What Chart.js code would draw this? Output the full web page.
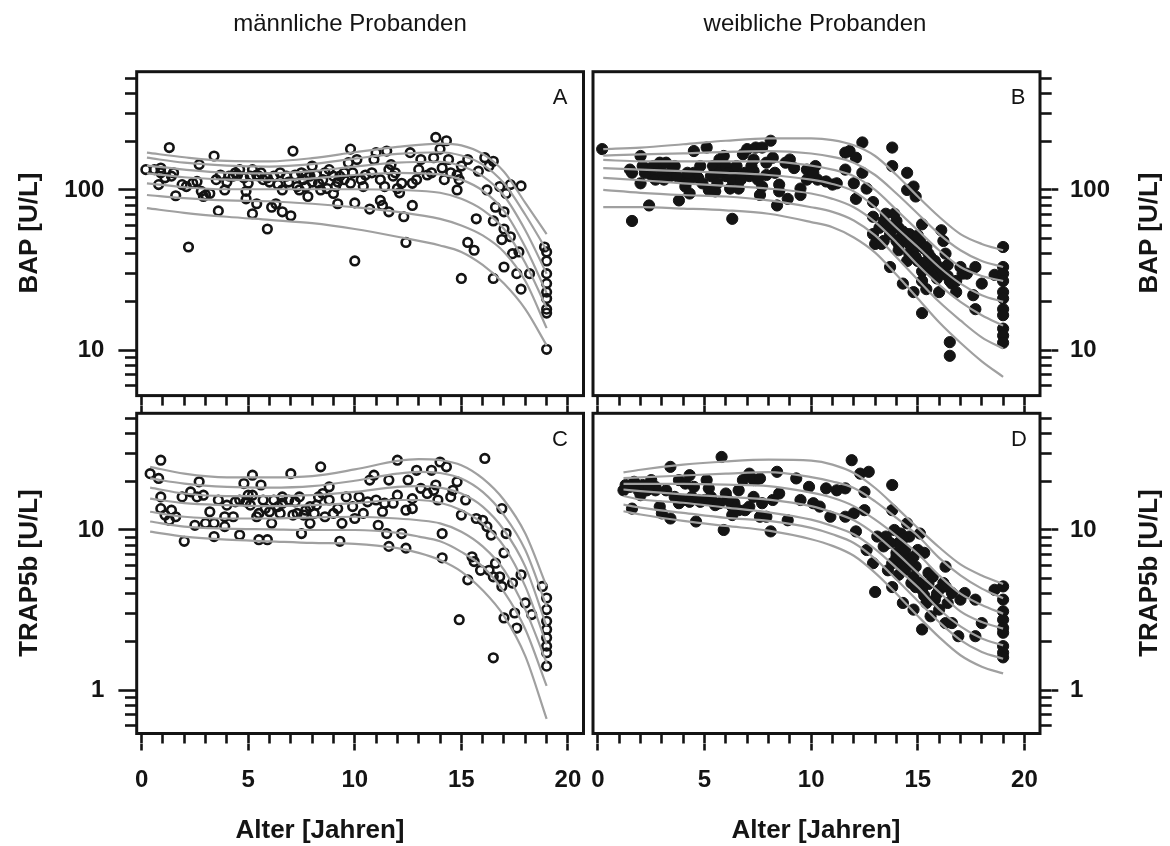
<!DOCTYPE html>
<html lang="de">
<head>
<meta charset="utf-8">
<title>BAP und TRAP5b nach Alter</title>
<script src="https://cdn.jsdelivr.net/npm/chart.js@4.4.1/dist/chart.umd.min.js"></script>
<style>
  html, body { margin: 0; padding: 0; background: #fff; }
  #page { position: relative; width: 1170px; height: 846px; overflow: hidden;
          font-family: "Liberation Sans", Arial, sans-serif; color: #141414; }
  #page canvas { position: absolute; left: 0; top: 0; }
  .txt { position: absolute; white-space: nowrap; line-height: 1; transform: translate(-50%, -50%); }
  .head { font-size: 24px; }
  .axis-title { font-size: 26px; font-weight: bold; }
  .vert { transform: translate(-50%, -50%) rotate(-90deg); }
  .letter { font-size: 22px; }
</style>
</head>
<body>
<div id="page">
  <canvas id="panelA" width="1170" height="846"></canvas>
  <canvas id="panelB" width="1170" height="846"></canvas>
  <canvas id="panelC" width="1170" height="846"></canvas>
  <canvas id="panelD" width="1170" height="846"></canvas>

  <div class="txt head" style="left:350px; top:23px">männliche Probanden</div>
  <div class="txt head" style="left:815px; top:23px">weibliche Probanden</div>

  <div class="txt axis-title vert" style="left:27.5px; top:233px">BAP [U/L]</div>
  <div class="txt axis-title vert" style="left:27.5px; top:573px">TRAP5b [U/L]</div>
  <div class="txt axis-title vert" style="left:1148px; top:233px">BAP [U/L]</div>
  <div class="txt axis-title vert" style="left:1148px; top:573px">TRAP5b [U/L]</div>

  <div class="txt axis-title" style="left:320px; top:829px">Alter [Jahren]</div>
  <div class="txt axis-title" style="left:816px; top:829px">Alter [Jahren]</div>

  <div class="txt letter" style="left:560px; top:96.5px">A</div>
  <div class="txt letter" style="left:1018px; top:97px">B</div>
  <div class="txt letter" style="left:560px; top:438.5px">C</div>
  <div class="txt letter" style="left:1019px; top:438.5px">D</div>
</div>

<script>
// --- Einzelwerte: Alter [Jahre] und Messwert je Panel ---
const ageA = [
  0.2,0.8,0.9,1.3,1.4,1.6,1.9,2.2,2.6,2.7, 2.8,3.0,3.4,3.6,3.7,3.9,4.3,4.6,4.9,4.9,
  5.2,5.2,5.4,5.5,5.9,5.9,6.1,6.3,6.6,6.6, 7.0,7.1,7.2,7.4,7.6,7.8,8.0,8.2,8.4,8.7,
  8.8,9.0,9.2,9.3,9.7,9.8,9.9,10.0,10.0,10.1, 10.4,10.5,10.7,10.9,11.0,11.2,11.3,11.4,11.5,11.6,
  11.6,11.7,11.8,12.0,12.1,12.3,12.4,12.6,12.7,12.7, 12.9,13.1,13.4,13.7,13.8,14.0,14.1,14.3,14.4,14.5,
  14.8,14.8,14.9,15.0,15.0,15.3,15.3,15.6,15.7,15.8, 16.1,16.2,16.3,16.5,16.5,16.5,16.6,16.8,16.9,17.0,
  17.0,17.0,17.1,17.3,17.3,17.4,17.6,17.7,17.8,17.8, 18.2,18.9,19.0,19.0,19.0,19.0,19.0,19.0,19.0,19.0,
  19.0,4.1,4.5,4.8,5.1,5.4,5.7,6.2,6.5,6.8, 7.3,7.7,7.9,8.5,9.0,9.1,9.5,9.5,0.9,0.6,
  1.1,2.1,2.4,2.9,3.2,7.7,8.3,4.0,4.4,5.0, 5.6,6.0,6.4,6.9,7.5,8.0,8.6,9.2,9.8,10.3,
  10.8,11.2,11.9,12.2,13.0,13.6,14.2,3.5,1.5
];
const bapA = [
  134,108,137,184,122,92,108,44,113,144, 98,93,163,74,124,100,122,134,98,88,
  71,134,82,122,57,119,78,82,100,73, 69,175,124,100,116,91,141,124,100,102,
  134,95,82,122,148,180,128,83,36,155, 105,124,76,155,171,86,80,105,175,73,
  134,144,122,102,96,68,47,171,110,80, 116,155,124,159,213,180,137,203,155,128,
  124,100,116,141,28,155,47,42,66,131, 159,100,141,151,64,28,78,105,49,33,
  73,57,95,108,51,40,30,41,106,24, 30,44,41,36,30,26,23,21,18,17,
  10.1,122,124,119,122,124,116,122,128,122, 105,105,122,116,122,105,128,116,128,134,
  119,105,110,91,95,124,110,112,128,110, 128,112,108,112,128,112,128,112,110,116,
  128,116,128,110,134,128,116,116,128
];

const ageB = [
  0.2,1.5,1.6,2.0,2.0,2.3,2.4,2.5,2.7,2.9, 3.2,3.4,3.5,3.8,4.0,4.1,4.3,4.5,4.5,4.7,
  4.8,5.1,5.2,5.4,5.5,5.7,5.8,5.9,6.0,6.2, 6.3,6.4,6.5,6.6,6.8,6.9,7.0,7.3,7.4,7.6,
  7.7,7.7,7.9,8.1,8.2,8.4,8.5,8.5,8.9,9.0, 9.2,9.5,9.5,9.8,10.1,10.2,10.3,10.7,11.0,11.2,
  11.6,11.6,11.8,12.0,12.1,12.1,12.4,12.4,12.6,12.9, 12.9,12.9,13.0,13.3,13.5,13.7,13.8,13.8,13.9,14.0,
  14.1,14.2,14.3,14.5,14.5,14.6,14.7,14.8,14.8,14.9, 15.0,15.2,15.2,15.2,15.3,15.4,15.5,15.7,15.9,16.0,
  16.1,16.2,16.3,16.4,16.5,16.5,16.6,16.8,17.0,17.3, 17.6,17.7,17.7,18.0,18.6,19.0,19.0,19.0,19.0,19.0,
  19.0,19.0,19.0,19.0,19.0,19.0,13.2,13.4,13.7,13.9, 14.1,14.4,14.6,14.8,14.9,15.1,15.4,15.5,15.8,16.2,
  16.5,16.8,17.1,14.1,14.5,15.2,2.1,3.0,3.7,4.3, 5.4,5.7,6.0,6.3,6.5,7.3,7.1,7.9,8.8,9.8,
  10.1,1.6,2.2,2.6,3.1,3.6,4.2,4.9,5.3,5.6, 6.1,6.7,7.2,7.5,8.3,13.6,14.0,14.3,14.6,14.9,
  15.0,15.3,15.6,16.0,16.4,13.4
];
const bapB = [
  180,134,64,163,110,134,80,124,116,148, 148,122,134,86,116,105,95,175,128,119,
  141,184,100,141,98,155,134,163,122,102, 66,134,119,102,167,128,180,131,184,93,
  105,184,124,203,159,80,98,108,88,155, 137,102,93,134,122,141,116,113,108,110,
  171,134,175,110,159,88,198,128,102,84, 68,53,46,46,71,33,184,141,58,64,
  46,50,26,100,128,40,44,105,23,91, 36,61,31,17,43,24,40,31,28,23,
  56,48,40,34,11.2,9.2,26,23,33,30, 22,18,33,26,29.5,44,33,30,27,23,
  21,18,16.5,13.6,12.3,11.1,58,64,53,71, 58,48,53,48,44,48,44,33,36,30,
  27,27,30,42,36,27,141,128,122,116, 124,128,141,116,141,155,122,148,148,116,
  128,128,128,141,116,141,128,110,122,110, 128,116,141,116,128,60,48,55,46,38,
  52,35,38,33,29,48
];

const ageC = [
  0.4,0.8,0.9,0.9,0.9,1.1,1.3,1.4,1.9,2.0, 2.3,2.5,2.7,2.9,3.2,3.4,3.4,3.6,3.9,3.9,
  4.4,4.6,4.8,4.9,5.2,5.2,5.4,5.5,5.6,5.7, 5.9,6.0,6.1,6.6,6.6,7.0,7.1,7.4,7.5,7.6,
  7.9,8.2,8.4,8.5,8.8,8.8,9.0,9.3,9.4,9.6, 9.9,10.0,10.2,10.4,10.7,10.9,11.0,11.1,11.3,11.4,
  11.5,11.6,11.6,11.8,12.0,12.2,12.4,12.5,12.7,12.7, 12.9,13.1,13.4,13.6,13.8,13.9,14.0,14.1,14.1,14.3,
  14.5,14.8,14.9,15.0,15.2,15.3,15.5,15.6,15.7,16.1, 16.2,16.4,16.5,16.5,16.6,16.9,16.9,17.0,17.0,17.1,
  17.4,17.5,17.6,17.8,18.0,18.3,18.8,19.0,19.0,19.0, 19.0,19.0,19.0,19.0,19.0,4.6,5.1,5.5,6.2,6.5,
  6.9,7.3,7.7,8.1,8.6,1.6,2.6,3.0,13.7,14.6, 16.0,16.8,16.3,15.9,4.0,4.3,5.0,5.8,6.4,7.2,
  7.9,8.3,9.2,10.6,12.0,12.4
];
const trapC = [
  22.5,21,27.3,16.1,13.6,12.4,11.5,13.3,16.1,8.5, 17.3,10.7,20,16.5,13,9.1,11,15.4,12.1,10.5,
  15,9.3,19.5,15,22,16.5,12.1,8.7,19.1,15.4, 8.7,13,11,16.1,14.7,22.5,12.4,16.1,9.5,12.4,
  11,14.3,24.8,16.9,18.6,15.4,12.7,8.5,11,16.1, 14,11.8,16.1,12.7,20.5,22,15.4,10.7,13,14.7,
  9.5,7.9,20.5,14.7,27.3,9.5,7.7,20.5,15.7,13.6, 23.6,18.2,16.9,23.6,19.1,15.4,26.6,6.7,9.5,24.8,
  16.1,20,2.75,12.4,15.4,4.88,6.8,6.35,11.8,28, 10.5,9.3,5.1,1.59,6.2,13.6,4.44,7.2,2.82,9.5,
  4.66,3.03,2.44,5.25,3.5,2.96,4.44,3.76,3.18,2.69, 2.39,2.12,1.88,1.71,1.41,15.4,14.3,12.7,15.4,12.7,
  15.4,12.7,13.3,12.7,12.1,12.1,16.1,11,17.7,17.7, 11.5,5.1,5.6,5.6,14.3,12.1,16.5,13.6,14,15,
  14,16.1,13.6,15,16.5,13.3
];

const ageD = [
  1.2,1.3,1.6,1.7,2.0,2.3,2.5,2.7,2.9,3.0, 3.4,3.4,3.8,3.8,4.1,4.3,4.5,4.6,4.7,5.1,
  5.2,5.4,5.5,5.8,5.9,6.0,6.3,6.4,6.6,6.8, 7.1,7.3,7.4,7.6,7.7,7.9,8.1,8.2,8.4,8.5,
  8.9,9.3,9.5,9.9,10.1,10.4,10.7,10.9,11.2,11.6, 11.6,11.9,12.0,12.1,12.3,12.5,12.5,12.6,12.7,12.9,
  13.0,13.1,13.4,13.6,13.8,13.8,13.8,13.9,14.0,14.1, 14.3,14.5,14.5,14.6,14.7,14.8,14.9,15.1,15.2,15.2,
  15.3,15.5,15.6,15.8,16.0,16.2,16.3,16.3,16.6,16.9, 17.0,17.2,17.7,17.7,18.0,18.6,19.0,19.0,19.0,19.0,
  19.0,19.0,19.0,19.0,19.0,3.8,4.3,4.8,5.7,6.3, 6.6,7.3,7.6,2.1,2.7,13.5,14.1,14.4,14.8,14.8,
  15.1,15.4,15.7,16.0,16.3,16.6,14.1,13.8,1.5,1.9, 2.4,3.2,3.6,4.0,4.4,5.0,5.3,6.1,6.9,7.1,
  13.7,14.0,14.2,14.4,14.6,14.9,15.0,15.3,15.5,15.9, 16.4,14.3
];
const trapD = [
  17.7,19.1,13.6,20,16.5,17.7,20.5,18.6,14,12.7, 24.8,11.8,14.7,20.5,19.5,22,18.6,11.3,15.4,20.5,
  18.2,15,14.3,28.6,10,16.9,12.4,14.7,17.7,20.5, 22.5,16.1,20.5,12.1,14.7,12.1,9.8,15.4,23.1,16.9,
  11.5,21,15.4,18.6,14.7,14,18.2,12.1,17.7,18.2, 12.1,27.3,12.7,9.8,22.5,17.3,13.3,7.5,23.1,6.2,
  4.1,9.1,7.9,5.6,4.4,19.1,13.3,10,7.2,5.25, 3.5,11,6.7,9.1,4.66,3.18,5.9,9.5,4.23,2.39,
  7.2,5.4,2.89,3.67,3.18,4.66,5.9,2.62,4.04,2.17, 3.67,4.04,3.67,2.17,2.62,4.23,4.44,3.67,3.1,2.75,
  2.44,2.28,1.88,1.71,1.6,15.4,15,15,14.7,14, 13.3,20.5,21,19.1,17.7,9.1,8.3,7.5,6.8,5.1,
  4.66,3.5,5.1,4.23,4.44,2.62,6.2,6.2,18.6,17.7, 19.1,17.7,16.1,15.4,16.1,15.4,16.1,15.4,13.3,14,
  8.3,6.8,9.5,5.6,6.2,4.4,7.5,3.9,4.6,4.0, 3.5,8.8
];

// --- Perzentilkurven (3., 10., 25., 50., 75., 90., 97.) ---
const curveAgeA = [0.25, 2, 4, 6, 8, 10, 12, 14, 15, 16, 17, 18, 19];
const centilesA = [
  [77, 72, 68, 65, 62, 57, 51, 45, 41, 34, 26, 18, 10.7],
  [93, 89, 86, 85, 82, 78, 73, 66, 60, 52, 41, 27, 13.7],
  [110, 104, 101, 101, 101, 101, 100, 96, 88, 75, 57, 35, 18.3],
  [127, 120, 116, 115, 118, 124, 128, 125, 116, 99, 74, 44, 22.7],
  [142, 134, 128, 127, 131, 140, 148, 150, 141, 122, 92, 56, 30],
  [159, 148, 142, 140, 145, 157, 168, 172, 164, 144, 110, 70, 42],
  [171, 160, 152, 151, 158, 172, 186, 195, 190, 168, 130, 83, 53]
];

const curveAgeB = [0.25, 2, 4, 6, 8, 10, 11, 12, 13, 14, 15, 16, 17, 18, 19];
const centilesB = [
  [78, 78, 76.5, 74.6, 71, 63, 58.5, 50.5, 40.6, 29.5, 21, 14.9, 11.1, 8.5, 6.8],
  [100, 96, 93, 91, 86, 78, 73, 64.5, 52, 38, 27.5, 20, 15.3, 12, 10.2],
  [119, 115, 110, 106, 102, 95, 88, 78, 63, 47, 34, 25.5, 20, 16.5, 14.2],
  [137, 134, 131, 128, 124, 116, 109, 98, 78, 58, 44, 33, 26, 22, 20],
  [154, 151, 151, 151, 151, 142, 134, 122, 100, 75, 56, 42, 33, 29, 27],
  [164, 167, 169, 173, 175, 169, 161, 148, 124, 95, 71, 53, 42, 36, 33],
  [180, 184, 193, 203, 210, 210, 205, 190, 163, 124, 91, 68, 53, 46, 42]
];

const curveAgeC = [0.4, 2, 4, 6, 8, 10, 12, 13, 14, 15, 16, 17, 18, 19];
const centilesC = [
  [9.76, 9.1, 8.7, 8.5, 8.3, 8.2, 7.7, 7.2, 6.5, 5.5, 4.2, 2.9, 1.63, 0.66],
  [11.3, 10.5, 10.2, 10.1, 10, 10, 9.6, 9.1, 8.5, 7.3, 5.9, 4.1, 2.4, 1.06],
  [13, 12.1, 11.8, 11.8, 12, 12.1, 11.8, 11.5, 11, 9.76, 7.9, 5.64, 3.18, 1.48],
  [15.7, 14.7, 14.3, 14.1, 14.3, 14.7, 15.4, 15.4, 14.8, 13.3, 11, 7.9, 4.44, 1.93],
  [18.4, 16.9, 16.3, 16.3, 16.5, 17.3, 18.6, 18.8, 18.4, 16.9, 14, 10, 5.9, 2.5],
  [21, 19.5, 18.6, 18.4, 18.8, 20.3, 22.5, 23.1, 22.7, 21, 17.3, 12.4, 7.5, 3.33],
  [24.8, 22.5, 21.3, 21.3, 21.7, 23.9, 27, 27.7, 27.3, 25.4, 21, 15.4, 9.5, 4.44]
];

const curveAgeD = [1.2, 2, 4, 6, 8, 10, 11, 12, 13, 14, 15, 16, 17, 18, 19];
const centilesD = [
  [13.1, 12.5, 11.4, 10.6, 9.9, 8.75, 7.96, 6.9, 5.4, 4.0, 2.9, 2.14, 1.65, 1.4, 1.27],
  [14.4, 13.8, 12.8, 11.9, 11.4, 10.3, 9.4, 8.3, 6.6, 4.9, 3.6, 2.66, 2.05, 1.73, 1.57],
  [16.3, 15.5, 14.8, 13.8, 12.9, 11.6, 10.6, 9.4, 7.6, 5.8, 4.4, 3.2, 2.5, 2.1, 1.9],
  [17.9, 17.5, 16.7, 16.1, 15.5, 14.1, 12.9, 11.5, 9.4, 7.2, 5.4, 4.1, 3.1, 2.66, 2.42],
  [19.4, 19.4, 19.4, 19.2, 18.8, 17.1, 15.9, 14.1, 11.6, 9.2, 7.1, 5.2, 4.0, 3.4, 3.0],
  [21.1, 21.3, 21.9, 22.5, 23, 21.4, 20.1, 18.3, 15.1, 11.9, 9.2, 6.7, 5.2, 4.3, 3.75],
  [22.9, 23.8, 25.6, 26.8, 27.5, 27.1, 25.6, 22.7, 18.3, 13.8, 10.3, 7.8, 6.1, 5.2, 4.6]
];

// --- Achsen ---
const ageMinorTicks = [0,1,2,3,4,5,6,7,8,9,10,11,12,13,14,15,16,17,18,19,20];
const ageMajorTicks = [0, 5, 10, 15, 20];
const bapMinorTicks = [6,7,8,9,10,20,30,40,50,60,70,80,90,100,200,300,400,500];
const bapMajorTicks = [10, 100];
const trapMinorTicks = [0.6,0.7,0.8,0.9,1,2,3,4,5,6,7,8,9,10,20,30,40,50];
const trapMajorTicks = [1, 10];
const bapRange = [5.19, 548];
const trapRange = [0.535, 53.6];
const ageRange = [-0.23, 20.73];

const INK = '#141414';
const CURVE = '#a0a0a0';
const FONT = "'Liberation Sans', Arial, sans-serif";
const W = 1170, H = 846;

const INNER_TICK = 11.7;   // short ticks next to the frame
const OUTER_TICK = 6.6;    // extension for labelled ticks
const Y_LABEL_BAND = 70;
const X_INNER = 10, X_OUTER = 7, X_LABEL_BAND = 50;

// black frame round each panel
const panelFrame = {
  id: 'panelFrame',
  afterDraw(chart) {
    const { ctx, chartArea: a } = chart;
    ctx.save();
    ctx.strokeStyle = INK;
    ctx.lineWidth = 3;
    ctx.strokeRect(a.left, a.top, a.right - a.left, a.bottom - a.top);
    ctx.restore();
  }
};

function pickTicks(list) {
  return scale => {
    scale.ticks = list
      .filter(v => v >= scale.min - 1e-9 && v <= scale.max + 1e-9)
      .map(v => ({ value: v }));
  };
}

function tickGrid(len) {
  return { drawOnChartArea: false, drawTicks: true, tickLength: len, tickWidth: 2.6, tickColor: INK };
}

const labelFont = { family: FONT, size: 24, weight: 'bold', lineHeight: 1 };

function makePanel(canvasId, p) {
  const yBand = INNER_TICK + Y_LABEL_BAND;
  const xBand = X_INNER + (p.xLabels ? X_LABEL_BAND : X_OUTER);
  const padding = {
    top: p.box.top,
    bottom: H - p.box.bottom - xBand,
    left: p.ySide === 'left' ? p.box.left - yBand : p.box.left,
    right: p.ySide === 'right' ? W - p.box.right - yBand : W - p.box.right
  };

  const datasets = p.centiles.map(vals => ({
    data: p.curveAge.map((a, i) => ({ x: a, y: vals[i] })),
    showLine: true,
    pointRadius: 0,
    borderColor: CURVE,
    borderWidth: 2.2,
    cubicInterpolationMode: 'monotone',
    order: 0
  }));
  datasets.push({
    data: p.age.map((a, i) => ({ x: a, y: p.value[i] })),
    pointRadius: p.filled ? 5.6 : 4.3,
    pointBorderWidth: p.filled ? 1 : 2.6,
    pointBorderColor: INK,
    pointBackgroundColor: p.filled ? INK : 'rgba(0,0,0,0)',
    order: 1
  });

  return new Chart(document.getElementById(canvasId), {
    type: 'scatter',
    data: { datasets },
    options: {
      responsive: false,
      animation: false,
      devicePixelRatio: 1,
      events: [],
      layout: { padding, autoPadding: false },
      plugins: { legend: { display: false }, tooltip: { enabled: false } },
      scales: {
        x: {
          type: 'linear', position: 'bottom', weight: 0,
          min: ageRange[0], max: ageRange[1],
          afterBuildTicks: pickTicks(ageMinorTicks),
          ticks: { display: false },
          grid: tickGrid(X_INNER),
          border: { display: false },
          afterFit: s => { s.height = X_INNER; }
        },
        xMajor: {
          type: 'linear', position: 'bottom', weight: 1,
          min: ageRange[0], max: ageRange[1],
          afterBuildTicks: pickTicks(ageMajorTicks),
          ticks: { display: p.xLabels, color: INK, font: labelFont, padding: 18,
                   maxRotation: 0, autoSkip: false },
          grid: tickGrid(X_OUTER),
          border: { display: false },
          afterFit: s => { s.height = p.xLabels ? X_LABEL_BAND : X_OUTER; }
        },
        y: {
          type: 'logarithmic', position: p.ySide, weight: 0,
          min: p.yRange[0], max: p.yRange[1],
          afterBuildTicks: pickTicks(p.yMinor),
          ticks: { display: false },
          grid: tickGrid(INNER_TICK),
          border: { display: false },
          afterFit: s => { s.width = INNER_TICK; }
        },
        yMajor: {
          type: 'logarithmic', position: p.ySide, weight: 1,
          min: p.yRange[0], max: p.yRange[1],
          afterBuildTicks: pickTicks(p.yMajor),
          ticks: { display: true, color: INK, font: labelFont, autoSkip: false,
                   padding: p.ySide === 'left' ? 14 : 11.7,
                   callback: v => String(v) },
          grid: tickGrid(OUTER_TICK),
          border: { display: false },
          afterFit: s => { s.width = Y_LABEL_BAND; }
        }
      }
    },
    plugins: [panelFrame]
  });
}

const rowTop = { top: 71.7, bottom: 395.6 };
const rowBottom = { top: 413.3, bottom: 733.5 };
const colLeft = { left: 136.7, right: 583.5 };
const colRight = { left: 593, right: 1040 };

makePanel('panelA', {
  box: { ...colLeft, ...rowTop }, ySide: 'left', xLabels: false, filled: false,
  yRange: bapRange, yMinor: bapMinorTicks, yMajor: bapMajorTicks,
  age: ageA, value: bapA, curveAge: curveAgeA, centiles: centilesA
});
makePanel('panelB', {
  box: { ...colRight, ...rowTop }, ySide: 'right', xLabels: false, filled: true,
  yRange: bapRange, yMinor: bapMinorTicks, yMajor: bapMajorTicks,
  age: ageB, value: bapB, curveAge: curveAgeB, centiles: centilesB
});
makePanel('panelC', {
  box: { ...colLeft, ...rowBottom }, ySide: 'left', xLabels: true, filled: false,
  yRange: trapRange, yMinor: trapMinorTicks, yMajor: trapMajorTicks,
  age: ageC, value: trapC, curveAge: curveAgeC, centiles: centilesC
});
makePanel('panelD', {
  box: { ...colRight, ...rowBottom }, ySide: 'right', xLabels: true, filled: true,
  yRange: trapRange, yMinor: trapMinorTicks, yMajor: trapMajorTicks,
  age: ageD, value: trapD, curveAge: curveAgeD, centiles: centilesD
});
</script>
</body>
</html>
